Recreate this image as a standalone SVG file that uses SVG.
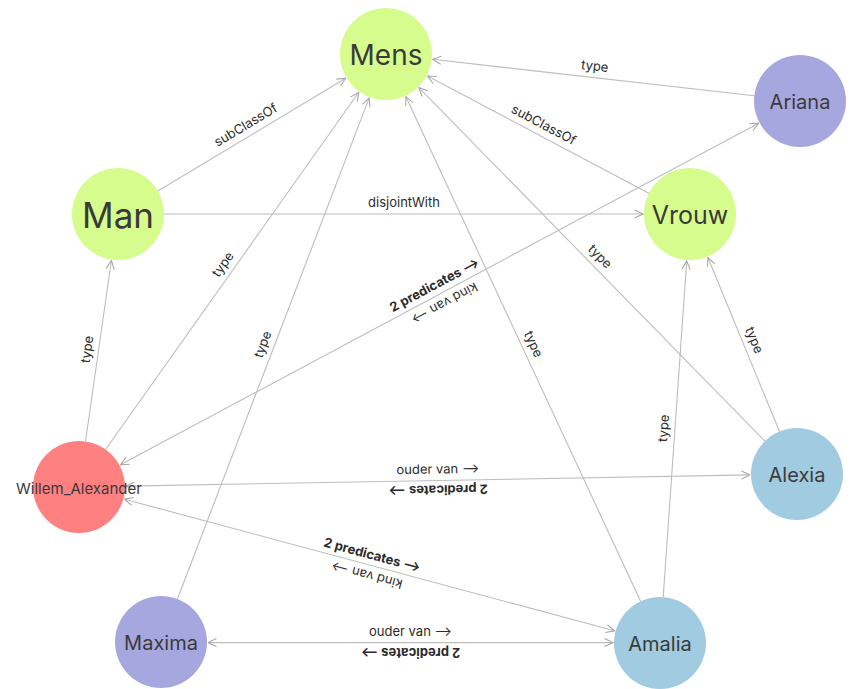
<svg xmlns="http://www.w3.org/2000/svg" width="856" height="689" viewBox="0 0 856 689">
<style>
.edge{stroke:#bdbdbd;stroke-width:1.1;fill:none}
.arr{marker-end:url(#ah)}
.both{marker-end:url(#ah);marker-start:url(#ah)}
.el{font-family:Inter,"Noto Sans","DejaVu Sans",sans-serif;font-size:13px;fill:#2b2b2b;text-anchor:middle}
.b{font-weight:700}
.nl{font-family:Inter,"Noto Sans","DejaVu Sans",sans-serif;fill:#3a3a3a;text-anchor:middle;dominant-baseline:central}
.g{fill:#d5fc8c}
.p{fill:#a7a7e0}
.bl{fill:#a1cbe0}
.r{fill:#ff8080}
</style>
<defs>
<marker id="ah" viewBox="0 0 10 10" refX="9.5" refY="5" markerWidth="10" markerHeight="10" markerUnits="userSpaceOnUse" orient="auto-start-reverse">
<path d="M1,1 L9.5,5 L1,9" fill="none" stroke="#a8a8a8" stroke-width="1.1"/>
</marker>
</defs>
<g id="connectors">
<line class="edge arr" x1="754.3" y1="95.8" x2="432.7" y2="59.3"/>
<text class="el" transform="translate(593.5,77.5) rotate(6.5)" y="-7">type</text>
<line class="edge arr" x1="649.3" y1="193.5" x2="427.5" y2="76"/>
<text class="el" transform="translate(538.4,134.8) rotate(27.9)" y="-7">subClassOf</text>
<line class="edge arr" x1="157.4" y1="191.3" x2="345.7" y2="78.2"/>
<text class="el" transform="translate(251.6,134.8) rotate(-31)" y="-7">subClassOf</text>
<line class="edge arr" x1="164" y1="214" x2="643" y2="214"/>
<text class="el" x="404" y="207">disjointWith</text>
<line class="edge arr" x1="85.5" y1="441.5" x2="111.4" y2="260.5"/>
<text class="el" transform="translate(98.4,351) rotate(-81.9)" y="-7">type</text>
<line class="edge arr" x1="105.6" y1="449.5" x2="358.8" y2="92.3"/>
<text class="el" transform="translate(232.2,270.9) rotate(-54.7)" y="-7">type</text>
<line class="edge arr" x1="177.4" y1="599" x2="369.2" y2="97.9"/>
<text class="el" transform="translate(273.3,348.5) rotate(-69.06)" y="-7">type</text>
<line class="edge arr" x1="640.6" y1="601.3" x2="405.8" y2="96.6"/>
<text class="el" transform="translate(523.2,349) rotate(65.05)" y="-7">type</text>
<line class="edge arr" x1="764.8" y1="441.1" x2="418.9" y2="87.6"/>
<text class="el" transform="translate(591.9,264.4) rotate(45.6)" y="-7">type</text>
<line class="edge arr" x1="779.5" y1="431.5" x2="707.9" y2="257.5"/>
<text class="el" transform="translate(743.7,344.5) rotate(67.6)" y="-7">type</text>
<line class="edge arr" x1="663.2" y1="597.1" x2="686.7" y2="260.9"/>
<text class="el" transform="translate(675,429) rotate(-86)" y="-7">type</text>
<line class="edge both" x1="120.4" y1="464.8" x2="758.6" y2="123.2"/>
<text class="el b" transform="translate(439.5,294) rotate(-28.16)" y="-6">2 predicates ⟶</text>
<text class="el" transform="translate(439.5,294) rotate(151.84)" y="-6">kind van ⟶</text>
<line class="edge both" x1="126" y1="486.1" x2="750" y2="474.9"/>
<text class="el" transform="translate(438,480.5) rotate(-1.04)" y="-7">ouder van ⟶</text>
<text class="el b" transform="translate(438,480.5) rotate(178.96)" y="-5">2 predicates ⟶</text>
<line class="edge both" x1="124.4" y1="499.2" x2="614.6" y2="630.8"/>
<text class="el b" transform="translate(369.5,565) rotate(15.03)" y="-6">2 predicates ⟶</text>
<text class="el" transform="translate(369.5,565) rotate(195.03)" y="-6">kind van ⟶</text>
<line class="edge both" x1="208" y1="642.6" x2="613" y2="642.6"/>
<text class="el" x="410.5" y="636">ouder van ⟶</text>
<text class="el b" transform="translate(410.5,642.6) rotate(180)" y="-5">2 predicates ⟶</text>
</g>
<g id="node-mens"><circle class="g" cx="386" cy="54" r="46"/><text class="nl" x="386" y="55" font-size="28">Mens</text></g>
<g id="node-ariana"><circle class="p" cx="800" cy="101" r="46"/><text class="nl" x="800" y="102" font-size="20">Ariana</text></g>
<g id="node-man"><circle class="g" cx="118" cy="214" r="46"/><text class="nl" x="118" y="215" font-size="35">Man</text></g>
<g id="node-vrouw"><circle class="g" cx="690" cy="214" r="46"/><text class="nl" x="690" y="215" font-size="25">Vrouw</text></g>
<g id="node-willem"><circle class="r" cx="79" cy="487" r="46"/><text class="nl" x="79" y="488" font-size="15">Willem_Alexander</text></g>
<g id="node-alexia"><circle class="bl" cx="797" cy="474" r="46"/><text class="nl" x="797" y="475" font-size="20">Alexia</text></g>
<g id="node-maxima"><circle class="p" cx="161" cy="642" r="46"/><text class="nl" x="161" y="643" font-size="20">Maxima</text></g>
<g id="node-amalia"><circle class="bl" cx="660" cy="643" r="46"/><text class="nl" x="660" y="644" font-size="20">Amalia</text></g>
</svg>
